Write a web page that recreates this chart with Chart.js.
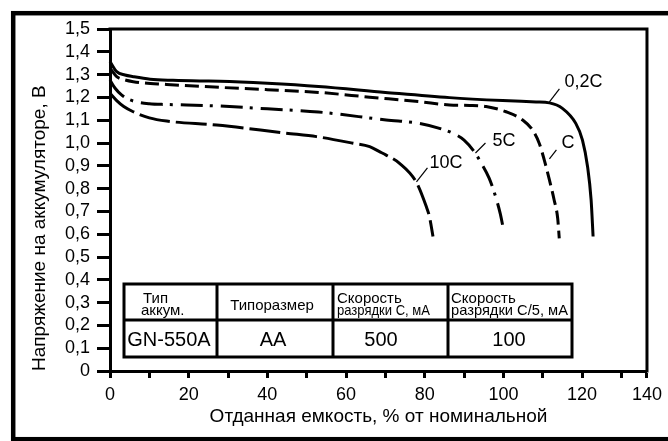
<!DOCTYPE html>
<html>
<head>
<meta charset="utf-8">
<script src="https://cdn.jsdelivr.net/npm/chart.js@4"></script>
<style>
  html, body { margin: 0; padding: 0; background: #fff; }
  canvas { display: block; }
</style>
</head>
<body>
<canvas id="chart" width="668" height="441"></canvas>
<script>
// Discharge curves of the GN-550A cell: [delivered capacity, % of nominal ; voltage, V]
const curve02C = [[0,1.357],[1.7,1.313],[3.8,1.298],[5.9,1.291],[10.2,1.280],[16,1.275],[22.8,1.272],[28,1.271],[40,1.262],[53,1.248],[70,1.222],[86.3,1.199],[99.8,1.186],[108.3,1.180],[111.7,1.176],[115,1.152],[118.4,1.086],[120.1,1.013],[121.4,0.896],[122.3,0.75],[122.8,0.59]];
const curveC   = [[0,1.328],[1.7,1.291],[3.5,1.278],[5.9,1.269],[14.4,1.257],[27.9,1.244],[40,1.234],[53,1.222],[66,1.201],[78.7,1.181],[86.3,1.167],[91.4,1.165],[95.6,1.160],[100.7,1.137],[104.9,1.101],[107.4,1.057],[109.1,0.999],[110.4,0.925],[111.7,0.838],[112.9,0.75],[113.8,0.67],[114.2,0.582]];
const curve5C  = [[0,1.276],[1.3,1.24],[3,1.21],[5.1,1.189],[10,1.172],[14.5,1.169],[27.9,1.162],[40,1.15],[53,1.136],[70.2,1.101],[78.7,1.086],[84.2,1.062],[87.1,1.043],[90,1.013],[92.6,0.962],[94.3,0.914],[96.4,0.845],[98.1,0.76],[99.2,0.69],[100,0.623]];
const curve10C = [[0,1.218],[1.7,1.186],[3.5,1.16],[5.9,1.137],[10,1.11],[14.4,1.096],[27.1,1.079],[44.8,1.043],[52.5,1.028],[61.8,0.999],[66,0.984],[68.5,0.962],[70.2,0.947],[73.6,0.911],[77.8,0.83],[80.4,0.721],[81.2,0.677],[82.1,0.59]];

const curveNames = ['0,2C', 'C', '5C', '10C'];

// Axis ticks
const xAxisEnd = 136.5;          // the capacity axis is drawn short; its end carries the "140" label
const xTickValues = [0,10,20,30,40,50,60,70,80,90,100,110,120,130];
const xTickLabels = {0:'0',20:'20',40:'40',60:'60',80:'80',100:'100',120:'120'};
const xEndLabel = '140';
const yTickLabels = ['0','0,1','0,2','0,3','0,4','0,5','0,6','0,7','0,8','0,9','1,0','1,1','1,2','1,3','1,4','1,5'];

// Spec table
const tableHead = [['Тип', 'аккум.'], ['Типоразмер'], ['Скорость', 'разрядки С, мА'], ['Скорость', 'разрядки С/5, мА']];
const tableRow  = ['GN-550A', 'AA', '500', '100'];

const FONT = "'Liberation Sans', Arial, Helvetica, sans-serif";
const toXY = arr => arr.map(p => ({x: p[0], y: p[1]}));

const lineBase = {
  borderColor: '#000',
  borderWidth: 3,
  pointRadius: 0,
  fill: false,
  cubicInterpolationMode: 'monotone',
  borderCapStyle: 'butt',
  clip: false
};

// White page and the heavy outer frame
const framePlugin = {
  id: 'frame',
  beforeDraw(chart) {
    const ctx = chart.ctx;
    ctx.save();
    ctx.fillStyle = '#fff';
    ctx.fillRect(0, 0, chart.width, chart.height);
    ctx.strokeStyle = '#000';
    ctx.lineWidth = 4.5;
    ctx.strokeRect(13.2, 13.2, 700, 426);
    ctx.restore();
  },
  afterDraw(chart) {
    // top and right edges of the plot box
    const {left, top, right, bottom} = chart.chartArea;
    const ctx = chart.ctx;
    ctx.save();
    ctx.strokeStyle = '#000';
    ctx.lineWidth = 3;
    ctx.beginPath();
    ctx.moveTo(left - 1.5, top);
    ctx.lineTo(right, top);
    ctx.lineTo(right, bottom + 1.5);
    ctx.stroke();
    ctx.restore();
  }
};

// Curve names with short leader lines, anchored next to each curve
const labelPlugin = {
  id: 'curveLabels',
  afterDatasetsDraw(chart) {
    const xs = chart.scales.x, ys = chart.scales.y;
    const ctx = chart.ctx;
    const specs = [
      {name: curveNames[0], at: [111.7, 1.180], lead: [10, -13], text: [15, -20]},
      {name: curveNames[1], at: [111.7, 0.930], lead: [7, -9],   text: [12, -16]},
      {name: curveNames[2], at: [92.9, 0.956],  lead: [10, -10], text: [17, -12]},
      {name: curveNames[3], at: [77.9, 0.829],  lead: [11, -14], text: [13, -19]}
    ];
    ctx.save();
    ctx.strokeStyle = '#000';
    ctx.fillStyle = '#000';
    ctx.lineWidth = 1.2;
    ctx.font = '18px ' + FONT;
    ctx.textAlign = 'left';
    ctx.textBaseline = 'middle';
    specs.forEach(s => {
      const px = xs.getPixelForValue(s.at[0]);
      const py = ys.getPixelForValue(s.at[1]);
      ctx.beginPath();
      ctx.moveTo(px, py);
      ctx.lineTo(px + s.lead[0], py + s.lead[1]);
      ctx.stroke();
      ctx.fillText(s.name, px + s.text[0], py + s.text[1]);
    });
    ctx.restore();
  }
};

// Spec table inside the plot
const tablePlugin = {
  id: 'specTable',
  afterDatasetsDraw(chart) {
    const ctx = chart.ctx;
    const L = 124, R = 572, T = 284, M = 320, B = 357;
    const cols = [L, 217, 333, 448, R];
    ctx.save();
    ctx.fillStyle = '#fff';
    ctx.fillRect(L, T, R - L, B - T);
    ctx.strokeStyle = '#000';
    ctx.lineWidth = 3;
    ctx.strokeRect(L, T, R - L, B - T);
    ctx.beginPath();
    ctx.moveTo(L, M); ctx.lineTo(R, M);
    for (let i = 1; i < cols.length - 1; i++) {
      ctx.moveTo(cols[i], T); ctx.lineTo(cols[i], B);
    }
    ctx.stroke();

    ctx.fillStyle = '#000';
    ctx.textBaseline = 'alphabetic';
    // header cells
    ctx.font = '15px ' + FONT;
    ctx.textAlign = 'left';
    ctx.fillText(tableHead[0][0], 143, 303);
    ctx.fillText(tableHead[0][1], 141, 315, 72);
    ctx.textAlign = 'center';
    ctx.fillText(tableHead[1][0], 272, 310, 108);
    ctx.textAlign = 'left';
    ctx.fillText(tableHead[2][0], 337, 303, 108);
    ctx.fillText(tableHead[2][1], 337, 315, 93);
    ctx.fillText(tableHead[3][0], 451, 303, 116);
    ctx.fillText(tableHead[3][1], 451, 315, 117);
    // value cells
    ctx.font = '20px ' + FONT;
    ctx.textAlign = 'center';
    const centers = [169, 273, 381, 509];
    tableRow.forEach((t, i) => ctx.fillText(t, centers[i], 346, 90));
    ctx.restore();
  }
};

new Chart(document.getElementById('chart'), {
  type: 'line',
  data: {
    datasets: [
      Object.assign({}, lineBase, {label: curveNames[0], data: toXY(curve02C)}),
      Object.assign({}, lineBase, {label: curveNames[1], data: toXY(curveC),   borderDash: [14, 6]}),
      Object.assign({}, lineBase, {label: curveNames[2], data: toXY(curve5C),  borderDash: [22, 7, 3, 8]}),
      Object.assign({}, lineBase, {label: curveNames[3], data: toXY(curve10C), borderDash: [31, 6]})
    ]
  },
  options: {
    responsive: false,
    animation: false,
    devicePixelRatio: 1,
    layout: { padding: { left: 0, top: 29, right: 20, bottom: 0 } },
    plugins: {
      legend: { display: false },
      tooltip: { enabled: false }
    },
    scales: {
      x: {
        type: 'linear',
        min: 0,
        max: xAxisEnd,
        afterBuildTicks(scale) {
          scale.ticks = xTickValues.concat([xAxisEnd]).map(v => ({value: v}));
        },
        afterFit(scale) { scale.height = 70; },
        ticks: {
          autoSkip: false,
          maxRotation: 0,
          padding: 6,
          color: '#000',
          font: { family: FONT, size: 18 },
          callback: v => (v === xAxisEnd ? xEndLabel : (xTickLabels[v] || ''))
        },
        grid: {
          drawOnChartArea: false,
          drawTicks: true,
          tickLength: 7,
          tickWidth: 3,
          tickColor: '#000'
        },
        border: { display: true, color: '#000', width: 3 },
        title: {
          display: true,
          text: 'Отданная емкость, % от номинальной',
          color: '#000',
          font: { family: FONT, size: 19 },
          padding: { top: 0, bottom: 13 }
        }
      },
      y: {
        type: 'linear',
        min: 0,
        max: 1.5,
        afterFit(scale) { scale.width = 110; },
        ticks: {
          stepSize: 0.1,
          autoSkip: false,
          padding: 7,
          color: '#000',
          font: { family: FONT, size: 18 },
          callback: v => yTickLabels[Math.round(v * 10)]
        },
        grid: {
          drawOnChartArea: false,
          drawTicks: true,
          tickLength: 13,
          tickWidth: 3,
          tickColor: '#000'
        },
        border: { display: true, color: '#000', width: 3 },
        title: {
          display: true,
          text: 'Напряжение на аккумуляторе, В',
          align: 'start',
          color: '#000',
          font: { family: FONT, size: 19 },
          padding: { top: 28, bottom: 0 }
        }
      }
    }
  },
  plugins: [framePlugin, tablePlugin, labelPlugin]
});
</script>
</body>
</html>
